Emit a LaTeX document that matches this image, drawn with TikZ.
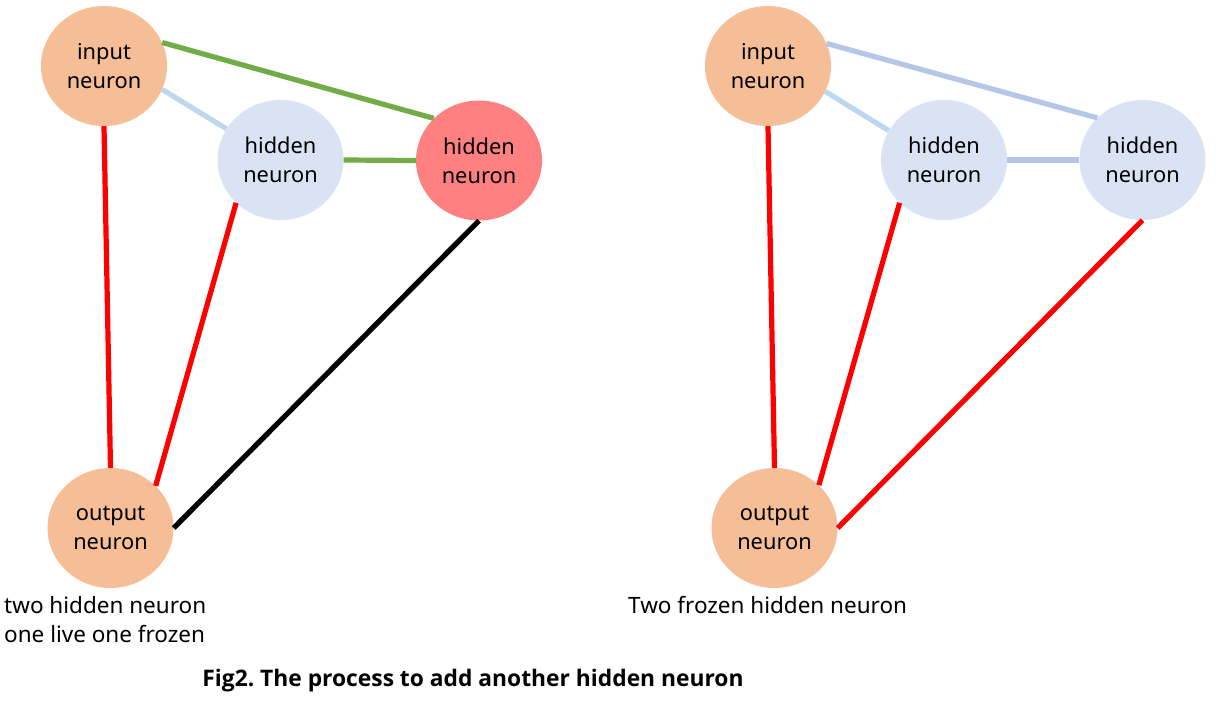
\documentclass[tikz,border=0pt]{standalone}
\usepackage{fontspec}
\setmainfont{Noto Sans}
\newfontfamily\titlefont{Open Sans}
\frenchspacing
\usetikzlibrary{shapes.geometric}
\definecolor{nOrange}{HTML}{F5BE97}
\definecolor{nBlue}{HTML}{DAE3F3}
\definecolor{nRed}{HTML}{FF8080}
\definecolor{lGreen}{HTML}{70AD47}
\definecolor{lLight}{HTML}{BDD7EE}
\definecolor{lBlue}{HTML}{B4C7E7}
\definecolor{lRed}{HTML}{FF0000}
\tikzset{
  neuron/.style={ellipse, minimum width=126pt, minimum height=120pt, inner sep=0pt,
    align=center, font=\fontsize{21.8}{29}\selectfont},
  inneuron/.style={neuron, fill=nOrange},
  hidneuron/.style={neuron, fill=nBlue},
  liveneuron/.style={neuron, fill=nRed},
  conn/.style={line width=5.2pt},
  caption/.style={anchor=north west, align=left, inner sep=0pt, font=\fontsize{22.5}{29}\selectfont}
}
\begin{document}
\begin{tikzpicture}[x=1pt, y=-1pt]
\useasboundingbox (0,0) rectangle (1216,711);
% left diagram
\node[inneuron] (in1) at (104,66) {input\\neuron};
\node[hidneuron] (h1) at (280.5,160) {hidden\\neuron};
\node[liveneuron] (r1) at (479,160.5) {hidden\\neuron};
\node[inneuron] (out1) at (110.5,528) {output\\neuron};
\draw[conn, lGreen] (in1.22) -- (r1.137);
\draw[conn, lLight] (in1.-22) -- (h1.150);
\draw[conn, lGreen] (h1.east) -- (r1.west);
\draw[conn, lRed] (in1.south) -- (out1.north);
\draw[conn, lRed] (h1.224) -- (out1.43);
\draw[conn, black] (r1.south) -- (out1.east);
% right diagram
\node[inneuron] (in2) at (768,66) {input\\neuron};
\node[hidneuron] (h2) at (944,160) {hidden\\neuron};
\node[hidneuron] (h3) at (1142.5,160) {hidden\\neuron};
\node[inneuron] (out2) at (774.5,528) {output\\neuron};
\draw[conn, lBlue] (in2.21) -- (h3.137);
\draw[conn, lLight] (in2.-24) -- (h2.152);
\draw[conn, lBlue] (h2.east) -- (h3.west);
\draw[conn, lRed] (in2.south) -- (out2.north);
\draw[conn, lRed] (h2.224) -- (out2.44);
\draw[conn, lRed] (h3.south) -- (out2.east);
% captions
\node[caption] (c1) at (4,596) {two hidden neuron\\one live one frozen};
\node[caption] (c2) at (628,596) {Two frozen hidden neuron};
\node[font=\titlefont\fontsize{22.8}{25}\selectfont\bfseries, inner sep=0pt] (title) at (473,681) {Fig2. The process to add another hidden neuron};
\end{tikzpicture}
\end{document}
